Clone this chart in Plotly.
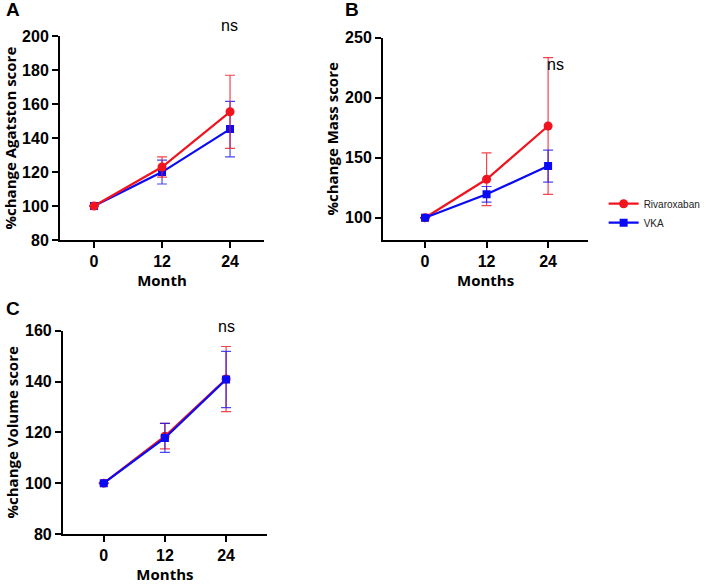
import plotly.graph_objects as go

months = [0, 12, 24]

agatston_riva = [100, 123, 155.5]
agatston_riva_err = [0, 6, 21.5]
agatston_vka = [100, 120, 145.3]
agatston_vka_err = [0, 7, 16.3]

mass_riva = [100, 132, 176.4]
mass_riva_err = [0, 22, 57]
mass_vka = [100, 119.5, 143]
mass_vka_err = [0, 6.5, 13.3]

volume_riva = [100, 118.5, 141]
volume_riva_err = [0, 5, 12.8]
volume_vka = [100, 117.8, 140.8]
volume_vka_err = [0, 5.7, 11.1]

RED = "#f0141e"
BLUE = "#0a0af5"
RED_ERR = "rgba(240,20,30,0.8)"
BLUE_ERR = "rgba(10,10,245,0.75)"


def riva(y, err, ax, show):
    return go.Scatter(
        x=months, y=y, name="Rivaroxaban", mode="lines+markers",
        line=dict(color=RED, width=2.2),
        marker=dict(color=RED, size=9, symbol="circle"),
        error_y=dict(type="data", array=err, color=RED_ERR, thickness=1.2, width=5),
        xaxis="x" + ax, yaxis="y" + ax, showlegend=show, legendrank=1,
    )


def vka(y, err, ax, show):
    return go.Scatter(
        x=months, y=y, name="VKA", mode="lines+markers",
        line=dict(color=BLUE, width=2.2),
        marker=dict(color=BLUE, size=8, symbol="square"),
        error_y=dict(type="data", array=err, color=BLUE_ERR, thickness=1.2, width=5),
        xaxis="x" + ax, yaxis="y" + ax, showlegend=show, legendrank=2,
    )


fig = go.Figure()
# panel A: red drawn over blue
fig.add_trace(vka(agatston_vka, agatston_vka_err, "", False))
fig.add_trace(riva(agatston_riva, agatston_riva_err, "", False))
# panel B
fig.add_trace(riva(mass_riva, mass_riva_err, "2", True))
fig.add_trace(vka(mass_vka, mass_vka_err, "2", True))
# panel C
fig.add_trace(riva(volume_riva, volume_riva_err, "3", False))
fig.add_trace(vka(volume_vka, volume_vka_err, "3", False))

tickfont = dict(family="Liberation Sans, Arial", size=16, color="black", weight="bold")
titlefont = dict(family="Open Sans", size=15, color="black", weight="bold")


def xax(dom, anchor, rng, title, standoff=2):
    return dict(
        domain=dom, anchor=anchor, range=rng, tickvals=months,
        showline=True, linecolor="black", linewidth=2, ticks="outside",
        ticklen=6, tickwidth=2, tickcolor="black", showgrid=False,
        zeroline=False, tickfont=tickfont, automargin=False,
        title=dict(text=title, font=titlefont, standoff=standoff),
    )


def yax(dom, anchor, rng, dtick, title):
    return dict(
        domain=dom, anchor=anchor, range=rng, dtick=dtick, tick0=0,
        showline=True, linecolor="black", linewidth=2, ticks="outside",
        ticklen=6, tickwidth=2, tickcolor="black", showgrid=False,
        zeroline=False, tickfont=tickfont, automargin=False,
        title=dict(text=title, font=titlefont, standoff=3),
    )


fig.update_layout(
    width=706, height=584,
    margin=dict(l=0, r=0, t=0, b=0, autoexpand=False),
    plot_bgcolor="white", paper_bgcolor="white",
    xaxis=xax([0.085, 0.374], "y", [-6, 30], "Month"),
    yaxis=yax([0.589, 0.938], "x", [80, 200], 20, "%change Agatston score"),
    xaxis2=xax([0.5425, 0.833], "y2", [-8.2, 31.8], "Months"),
    yaxis2=yax([0.589, 0.9355], "x2", [81.4, 250], 50, "%change Mass score"),
    xaxis3=xax([0.0892, 0.378], "y3", [-8, 32], "Months", standoff=3),
    yaxis3=yax([0.0856, 0.4337], "x3", [80, 160], 20, "%change Volume score"),
    legend=dict(x=0.855, y=0.676, xanchor="left", yanchor="top",
                font=dict(family="Liberation Sans, Arial", size=10, color="#222"),
                tracegroupgap=0, itemwidth=30, bgcolor="rgba(0,0,0,0)"),
)

ann_font = dict(family="Liberation Sans, Arial", size=16, color="black")
label_font = dict(family="Liberation Sans, Arial", size=19, color="black", weight="bold")
annotations = [
    dict(text="ns", x=230 / 706, y=1 - 26 / 584, xref="paper", yref="paper",
         showarrow=False, font=ann_font),
    dict(text="ns", x=25.4, y=228, xref="x2", yref="y2", showarrow=False, font=ann_font),
    dict(text="ns", x=226 / 706, y=1 - 326 / 584, xref="paper", yref="paper",
         showarrow=False, font=ann_font),
    dict(text="A", x=13 / 706, y=1 - 10 / 584, xref="paper", yref="paper",
         xanchor="center", yanchor="middle", showarrow=False, font=label_font),
    dict(text="B", x=352 / 706, y=1 - 10 / 584, xref="paper", yref="paper",
         xanchor="center", yanchor="middle", showarrow=False, font=label_font),
    dict(text="C", x=13 / 706, y=1 - 308 / 584, xref="paper", yref="paper",
         xanchor="center", yanchor="middle", showarrow=False, font=label_font),
]
for a in annotations[:3]:
    a.update(xanchor="center", yanchor="middle")
fig.update_layout(annotations=annotations)

fig.write_html("out.html", config={"displayModeBar": False},
               post_script="document.body.style.margin='0';")
